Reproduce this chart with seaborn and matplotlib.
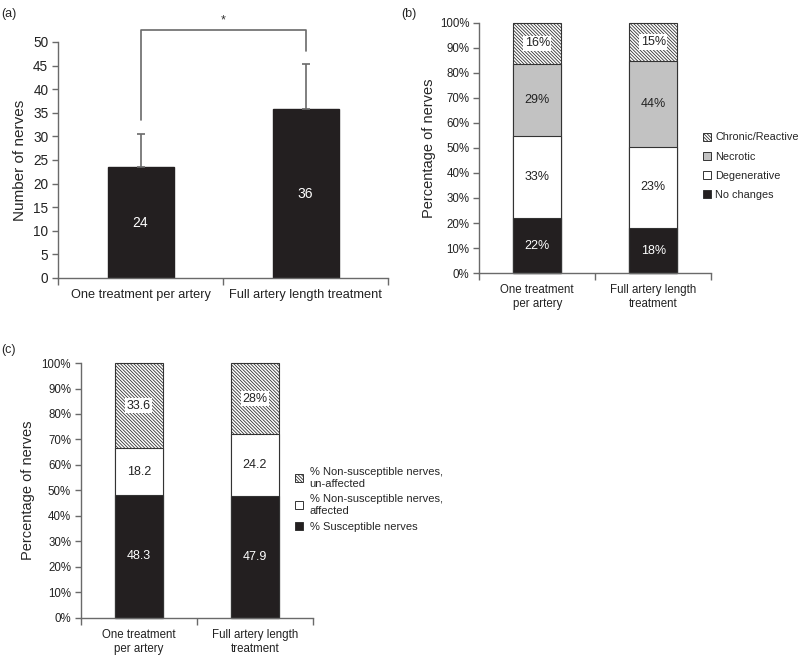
import numpy as np
import pandas as pd
import seaborn as sns
import matplotlib.pyplot as plt
from matplotlib.patches import Patch
from matplotlib.ticker import FixedLocator, FuncFormatter

# panel (a)
groups_a = ["One treatment per artery", "Full artery length treatment"]
nerve_counts = [23.5, 35.7]
nerve_sd = [7.0, 9.6]
count_labels = ["24", "36"]

# panel (b) - segment heights as drawn, and the printed labels
groups_b = ["One treatment\nper artery", "Full artery length\ntreatment"]
no_changes = [22.0, 18.0]
degenerative = [32.8, 32.5]
necrotic = [28.8, 34.3]
chronic = [16.4, 15.2]
b_labels = [["22%", "18%"], ["33%", "23%"], ["29%", "44%"], ["16%", "15%"]]
b_names = ["No changes", "Degenerative", "Necrotic", "Chronic/Reactive"]

# panel (c)
susceptible = [48.3, 47.9]
nonsus_affected = [18.2, 24.2]
nonsus_unaffected = [33.6, 28.0]
c_labels = [["48.3", "47.9"], ["18.2", "24.2"], ["33.6", "28%"]]
c_names = ["% Susceptible nerves", "% Non-susceptible nerves,\naffected",
           "% Non-susceptible nerves,\nun-affected"]

sns.set_theme(style="ticks")
plt.rcParams["font.family"] = ["Liberation Sans", "DejaVu Sans"]
plt.rcParams["hatch.linewidth"] = 0.6
plt.rcParams["hatch.color"] = "#222222"

GREY = "#6a6a6a"
DARK = "#231f20"
HATCH = "\\" * 10

fig = plt.figure(figsize=(8, 6.55), dpi=100)
ax_a = fig.add_axes([0.0725, 0.5756, 0.4125, 0.3604])
ax_b = fig.add_axes([0.599, 0.5832, 0.29, 0.3817])
ax_c = fig.add_axes([0.101, 0.0565, 0.29, 0.3893])


def style_axes(ax, fs, xfs):
    sns.despine(ax=ax)
    for s in ["left", "bottom"]:
        ax.spines[s].set_color(GREY)
        ax.spines[s].set_linewidth(1.0)
    ax.set_xlim(-0.5, 1.5)
    ax.xaxis.set_minor_locator(FixedLocator([-0.5, 0.5, 1.5]))
    ax.tick_params(axis="x", which="major", length=0, labelsize=xfs, pad=8, colors="#222222")
    ax.tick_params(axis="x", which="minor", length=5, width=1, color=GREY)
    ax.tick_params(axis="y", length=4, width=1, color=GREY, labelsize=fs, labelcolor="#222222", pad=3)


# ---- (a)
df_a = pd.DataFrame({"group": groups_a, "n": nerve_counts})
sns.barplot(data=df_a, x="group", y="n", color=DARK, saturation=1, width=0.4,
            edgecolor=DARK, errorbar=None, ax=ax_a)
centers = [p.get_x() + p.get_width() / 2 for p in ax_a.patches]
ax_a.errorbar(centers, nerve_counts, yerr=[[0, 0], nerve_sd], fmt="none",
              ecolor=GREY, elinewidth=1.2, capsize=3, capthick=1.2)
for x, h, t in zip(centers, nerve_counts, count_labels):
    ax_a.text(x, h / 2, t, color="white", ha="center", va="center", fontsize=10)
ax_a.plot([centers[0], centers[0], centers[1], centers[1]], [33.5, 52.5, 52.5, 48],
          color=GREY, lw=1.2, clip_on=False)
ax_a.text(np.mean(centers), 53.3, "*", ha="center", va="bottom", fontsize=9, color="#333333")
ax_a.set_ylim(0, 50)
ax_a.set_yticks(range(0, 51, 5))
style_axes(ax_a, 9.8, 9.2)
ax_a.set_xlabel("")
ax_a.set_ylabel("Number of nerves", fontsize=11, labelpad=4)
fig.text(0.002, 0.988, "(a)", fontsize=9, va="top")


# ---- stacked helper
def stacked(ax, groups, layers, styles, labels, fs):
    cum = np.minimum(np.cumsum(np.array(layers, dtype=float), axis=0), 100)
    for i in range(len(layers) - 1, -1, -1):
        fc, hatch = styles[i]
        sns.barplot(x=groups, y=cum[i], color=fc, saturation=1, width=0.41,
                    edgecolor="#333333", linewidth=0.8, hatch=hatch, ax=ax)
    ax.set_ylim(0, 100)
    ax.set_yticks(range(0, 101, 10))
    ax.yaxis.set_major_formatter(FuncFormatter(lambda v, _: f"{v:.0f}%"))
    for p in ax.patches:
        p.set_clip_on(False)
    for i in range(len(layers)):
        base = cum[i - 1] if i > 0 else np.zeros(len(groups))
        for j in range(len(groups)):
            mid = (base[j] + cum[i][j]) / 2
            fc, hatch = styles[i]
            col = "white" if fc == DARK else "#222222"
            kw = {}
            if hatch:
                kw["bbox"] = dict(facecolor="white", edgecolor="none", pad=1.2)
            ax.text(j, mid, labels[i][j], ha="center", va="center", fontsize=fs, color=col, **kw)
    style_axes(ax, 8.3, 8.3)


# ---- (b)
b_styles = [(DARK, None), ("white", None), ("#c2c2c2", None), ("white", HATCH)]
stacked(ax_b, groups_b, [no_changes, degenerative, necrotic, chronic], b_styles, b_labels, 9)
ax_b.set_ylabel("Percentage of nerves", fontsize=10.5, labelpad=3)
h_b = [Patch(facecolor=fc, edgecolor="#333333", hatch=ht, linewidth=0.7) for fc, ht in b_styles]
fig.legend(h_b[::-1], b_names[::-1], loc="upper left", bbox_to_anchor=(0.872, 0.806),
           frameon=False, fontsize=7.8, handlelength=0.75, handleheight=0.75,
           handletextpad=0.4, labelspacing=0.85, borderpad=0)
fig.text(0.502, 0.988, "(b)", fontsize=9, va="top")

# ---- (c)
c_styles = [(DARK, None), ("white", None), ("white", HATCH)]
stacked(ax_c, groups_b, [susceptible, nonsus_affected, nonsus_unaffected], c_styles, c_labels, 9)
ax_c.set_ylabel("Percentage of nerves", fontsize=10.5, labelpad=5)
h_c = [Patch(facecolor=fc, edgecolor="#333333", hatch=ht, linewidth=0.7) for fc, ht in c_styles]
fig.legend(h_c[::-1], c_names[::-1], loc="upper left", bbox_to_anchor=(0.362, 0.295),
           frameon=False, fontsize=8, handlelength=0.75, handleheight=0.75,
           handletextpad=0.55, labelspacing=0.5, borderpad=0)
fig.text(0.002, 0.475, "(c)", fontsize=9, va="top")

fig.savefig("out.png", dpi=100)
